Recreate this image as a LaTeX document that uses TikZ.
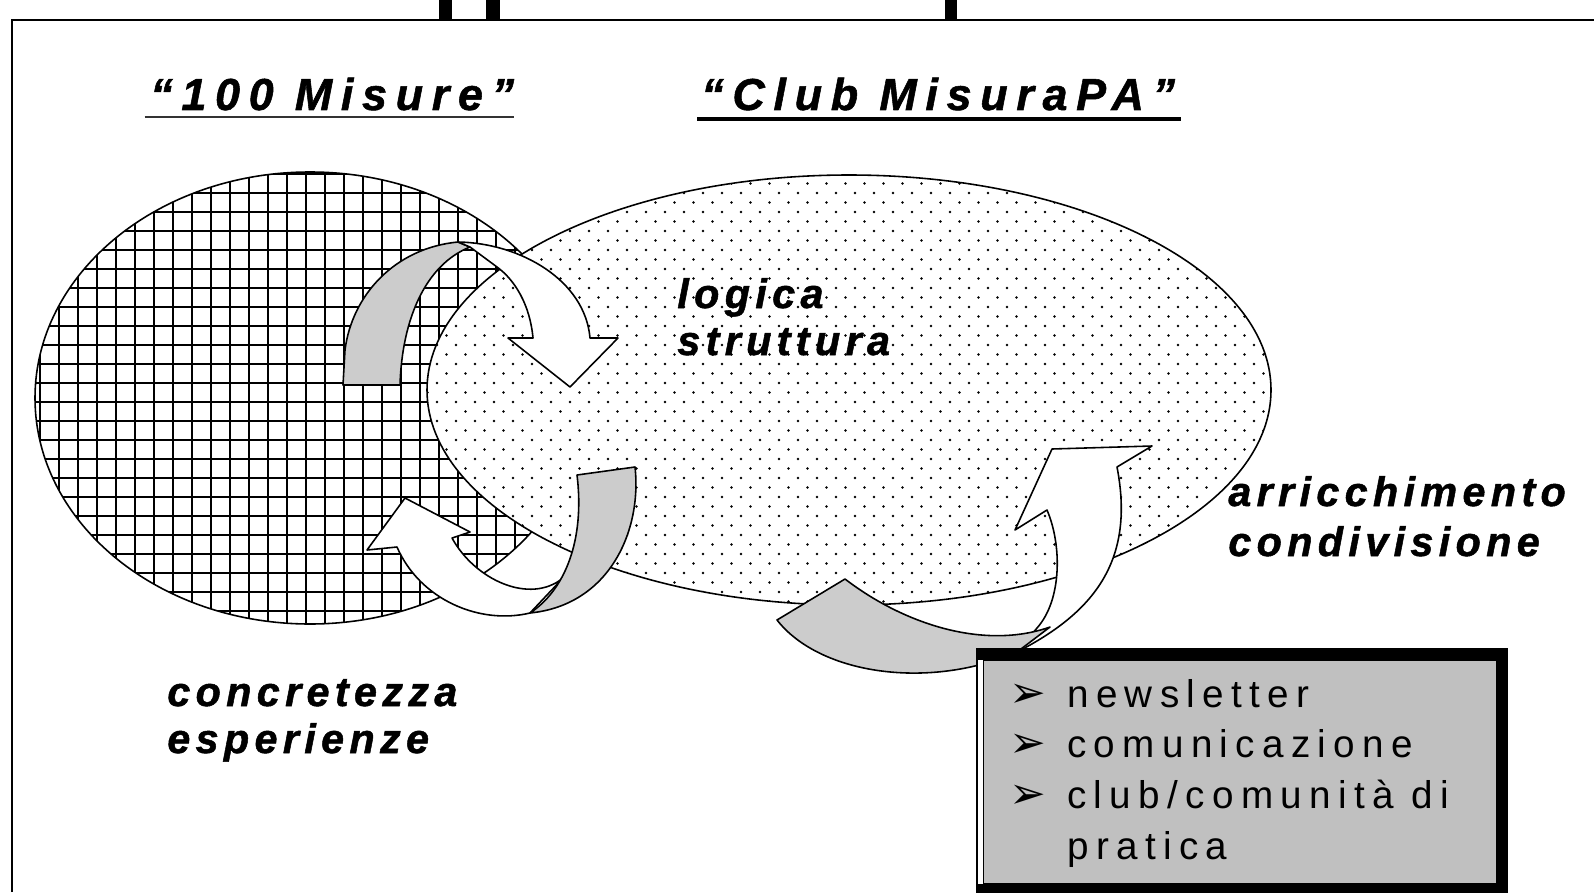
\documentclass[tikz,border=0pt]{standalone}
\usepackage{fontspec}
\setmainfont{Liberation Sans}
\newfontfamily\headfont[LetterSpace=19.5,BoldItalicFeatures={FakeBold=1.2}]{Liberation Sans}
\newfontfamily\lblfont[LetterSpace=13,BoldItalicFeatures={FakeBold=1.2}]{Liberation Sans}
\newfontfamily\listfont[LetterSpace=19]{Liberation Sans}
\newfontfamily\bulfont{DejaVu Sans}
\definecolor{backgray}{RGB}{204,204,204}
\definecolor{boxgray}{RGB}{192,192,192}
\newcommand{\itembul}{\makebox[32.9pt][l]{\bulfont\fontsize{25}{28}\selectfont ➢}}
\tikzset{
  heading/.style={inner sep=0pt,anchor=base west,font=\headfont\bfseries\itshape\fontsize{25.5}{30}\selectfont},
  lbltext/.style={inner sep=0pt,anchor=base west,font=\lblfont\bfseries\itshape\fontsize{23.5}{28}\selectfont},
  listtext/.style={inner sep=0pt,anchor=base west,font=\listfont\fontsize{22}{26}\selectfont},
  edge/.style={line width=0.9pt},
  gridline/.style={line width=1.134pt},
  backface/.style={draw,line width=0.9pt,fill=backgray,line join=round},
  frontface/.style={draw,line width=0.9pt,fill=white,line join=round}
}
\begin{document}
\begin{tikzpicture}[x=0.02cm,y=-0.02cm]
    \useasboundingbox (0,0) rectangle (1594,892);
    % frame and the cut title above it
    \draw[line width=1.4pt] (12,892) -- (12,20) -- (1600,20);
    \fill (439,0) rectangle (452,19);
    \fill (486,0) rectangle (500,19);
    \fill (945,0) rectangle (957,19);

    % "100 Misure" set
    \begin{scope}
        \clip (310,398) ellipse [x radius=275,y radius=226];
        \foreach \gx in {0,...,31} \draw[gridline] ({21+19*\gx},160) -- ++(0,480);
        \foreach \gy in {0,...,25} \draw[gridline] (20,{155+19*\gy}) -- ++(620,0);
    \end{scope}
    \draw[edge] (310,398) ellipse [x radius=275,y radius=226];

    % "Club MisuraPA" set
    \fill[white] (849,390) ellipse [x radius=422,y radius=215];
    \begin{scope}
        \clip (849,390) ellipse [x radius=422,y radius=215];
        \foreach \r in {0,...,47}
            \foreach \c in {0,...,46}
                \fill ({408.5+19*\c+9.5*mod(\r,2)},{164.5+9.5*\r}) circle (0.8pt);
    \end{scope}
    \draw[edge] (849,390) ellipse [x radius=422,y radius=215];

    % headings
    \node[heading] (t100) at (150,110) {“100 Misure”};
    \node[heading] (tclub) at (701,110) {“Club MisuraPA”};
    \draw[line width=1.2pt,black!80] ([shift={(-3pt,-4pt)}]t100.base west) -- ([shift={(0pt,-4pt)}]t100.base east);
    \draw[line width=2.6pt] ([shift={(-2pt,-5pt)}]tclub.base west) -- ([shift={(3pt,-5pt)}]tclub.base east);

    % labels
    \node[lbltext] (logica) at (677,308) {logica};
    \node[lbltext] (strutt) at (677,355) {struttura};
    \node[lbltext] (arricch) at (1228,506) {arricchimento};
    \node[lbltext] (condiv) at (1228,556) {condivisione};
    \node[lbltext] (concr) at (167,706) {concretezza};
    \node[lbltext] (esper) at (167,753) {esperienze};

    % arrow from 100 Misure into the club
    \path[backface] (343,385) -- (345,350) .. controls (352,295) and (395,248) .. (458,242)
        -- (470,247) .. controls (425,265) and (402,320) .. (400,385) -- cycle;
    \path[frontface] (458,242) .. controls (520,243) and (585,280) .. (590,338) -- (618,338)
        -- (570,387) -- (508,338) -- (533,338) .. controls (530,305) and (515,280) .. (497,267)
        -- (470,247) -- cycle;

    % arrow from the club back to 100 Misure
    \path[frontface] (530,613) .. controls (480,625) and (420,600) .. (397,547) -- (367,550)
        -- (405,498) -- (470,532) -- (452,538) .. controls (475,580) and (530,605) .. (563,578) -- cycle;
    \path[backface] (577,475) -- (635,467) .. controls (642,530) and (610,605) .. (530,613)
        .. controls (565,590) and (585,540) .. (577,475) -- cycle;

    % arrow from the club out to the list and back
    \path[frontface] (1017,652) .. controls (1095,612) and (1135,560) .. (1117,467) -- (1152,446)
        -- (1052,449) -- (1015,530) -- (1047,510) .. controls (1062,545) and (1062,600) .. (1037,628) -- cycle;
    \path[backface] (777,620) -- (845,579) .. controls (905,625) and (985,650) .. (1050,627)
        -- (1017,652) .. controls (930,690) and (820,675) .. (777,620) -- cycle;

    % list box
    \fill (976,648) rectangle (1508,895);
    \fill[white] (978,660) rectangle (983,884);
    \filldraw[fill=boxgray,line width=0.5pt] (983.5,660) rectangle (1496,883);
    \node[listtext] (item1) at (1009,707) {\itembul newsletter};
    \node[listtext] (item2) at (1009,757) {\itembul comunicazione};
    \node[listtext] (item3) at (1009,808) {\itembul club/comunità di};
    \node[listtext] (item4) at (1009,859) {\hspace{32.9pt}pratica};
\end{tikzpicture}
\end{document}
